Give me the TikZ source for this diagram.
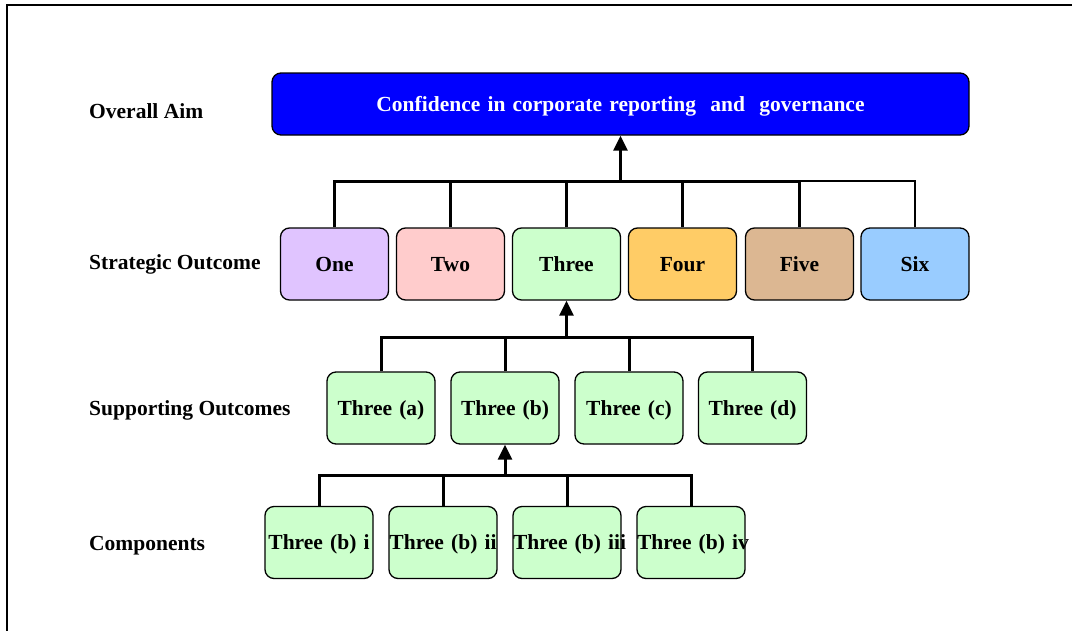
\documentclass[tikz,border=0pt]{standalone}
\usepackage{fontspec}
\setmainfont{Liberation Serif}
\usepackage{tikz}
\usetikzlibrary{arrows.meta}

\definecolor{aimblue}{RGB}{0,0,255}
\definecolor{colone}{RGB}{224,196,255}
\definecolor{coltwo}{RGB}{255,204,204}
\definecolor{colthree}{RGB}{204,255,204}
\definecolor{colfour}{RGB}{255,204,102}
\definecolor{colfive}{RGB}{220,183,146}
\definecolor{colsix}{RGB}{153,204,255}

\begin{document}
\begin{tikzpicture}[x=1pt,y=-1pt,font=\fontsize{21.5}{24}\selectfont\bfseries]

\tikzstyle{cell}=[rectangle,rounded corners=9pt,draw,line width=1.3pt,inner sep=0pt,
                  minimum height=72pt,text width=108pt,text depth=0pt,align=center]
\tikzstyle{lbl}=[anchor=west,inner sep=0pt,text depth=0pt]
\tikzstyle{link}=[line width=3pt]
\tikzstyle{up}=[line width=3pt,-{Triangle[width=14pt,length=15pt]}]

\useasboundingbox (0,0) rectangle (1072,630);
\draw[line width=1.3pt] (7,640) -- (7,5) -- (1080,5);

% row labels
\node[lbl] (laim)  at (89,111) {Overall Aim};
\node[lbl] (lstr)  at (89,262) {Strategic Outcome};
\node[lbl] (lsup)  at (89,408) {Supporting Outcomes};
\node[lbl] (lcomp) at (89,543) {Components};

% overall aim
\node[cell,fill=aimblue,text=white,minimum height=62pt,text width=697pt] (aim) at (620.5,104) {Confidence in corporate reporting\ \ and\ \ governance};

% strategic outcomes
\node[cell,fill=colone]   (one)   at (334.5,264) {One};
\node[cell,fill=coltwo]   (two)   at (450.5,264) {Two};
\node[cell,fill=colthree] (three) at (566.5,264) {Three};
\node[cell,fill=colfour]  (four)  at (682.5,264) {Four};
\node[cell,fill=colfive]  (five)  at (799.5,264) {Five};
\node[cell,fill=colsix]   (six)   at (915,264)   {Six};

% supporting outcomes
\node[cell,fill=colthree] (tha) at (381,408)   {Three (a)};
\node[cell,fill=colthree] (thb) at (505,408)   {Three (b)};
\node[cell,fill=colthree] (thc) at (629,408)   {Three (c)};
\node[cell,fill=colthree] (thd) at (752.5,408) {Three (d)};

% components
\node[cell,fill=colthree] (bi)   at (319,542.5) {\mbox{Three (b) i}};
\node[cell,fill=colthree] (bii)  at (443,542.5) {\mbox{Three (b) ii}};
\node[cell,fill=colthree] (biii) at (567,542.5) {\mbox{Three (b) iii}};
\node[cell,fill=colthree] (biv)  at (691,542.5) {\mbox{Three (b) iv}};

\coordinate (j1) at (620.5,181);
\coordinate (j2) at (566.5,337);
\coordinate (j3) at (505,475);

\draw[line width=1.3pt] (six.north) |- (j1);
\draw[link] (one.north) |- (j1);
\draw[link] (two.north) |- (j1);
\draw[link] (three.north) |- (j1);
\draw[link] (four.north) |- (j1);
\draw[link] (five.north) |- (j1);
\draw[up] (j1) -- (aim.south);

\draw[link] (tha.north) |- (j2);
\draw[link] (thb.north) |- (j2);
\draw[link] (thc.north) |- (j2);
\draw[link] (thd.north) |- (j2);
\draw[up] (j2) -- (three.south);

\draw[link] (bi.north) |- (j3);
\draw[link] (bii.north) |- (j3);
\draw[link] (biii.north) |- (j3);
\draw[link] (biv.north) |- (j3);
\draw[up] (j3) -- (thb.south);

\end{tikzpicture}
\end{document}
